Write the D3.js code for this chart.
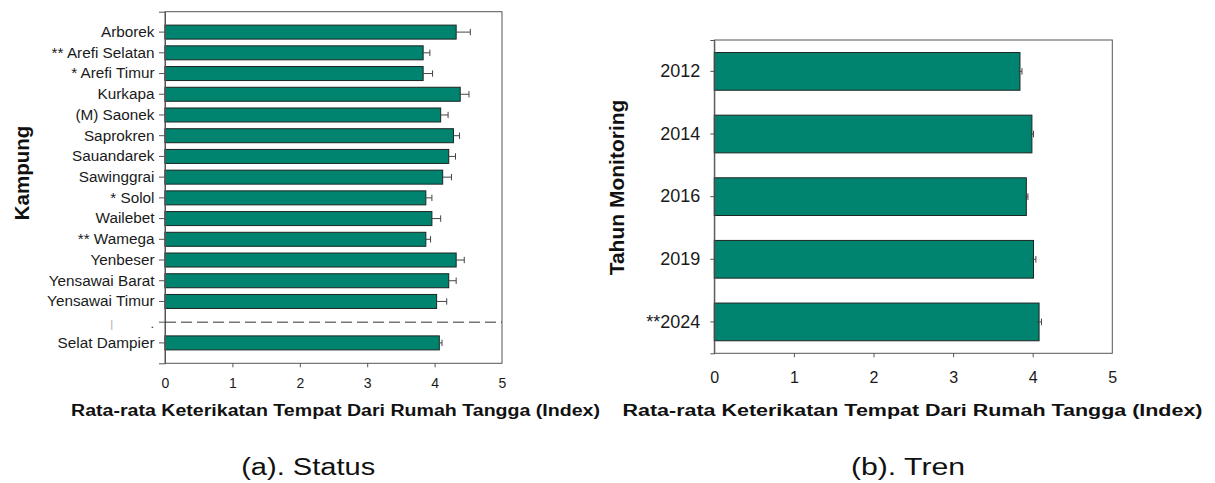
<!DOCTYPE html>
<html>
<head>
<meta charset="utf-8">
<script src="https://cdn.jsdelivr.net/npm/d3@7"></script>
<style>
  html, body { margin: 0; padding: 0; background: #fff; }
  svg { display: block; font-family: "Liberation Sans", Arial, sans-serif; }
</style>
</head>
<body>
<svg id="chart" width="1215" height="483"></svg>
<script>
// ---------- data ----------
const villages = ["Arborek", "** Arefi Selatan", "* Arefi Timur", "Kurkapa", "(M) Saonek", "Saprokren",
  "Sauandarek", "Sawinggrai", "* Solol", "Wailebet", "** Wamega", "Yenbeser", "Yensawai Barat", "Yensawai Timur"];
const villageMeans  = [4.32, 3.83, 3.83, 4.38, 4.09, 4.28, 4.21, 4.12, 3.87, 3.96, 3.87, 4.32, 4.21, 4.03];
const villageErrors = [0.21, 0.10, 0.14, 0.13, 0.11, 0.09, 0.10, 0.13, 0.09, 0.13, 0.07, 0.12, 0.11, 0.15];
const separatorKey = "sep";
const regionLabel = "Selat Dampier";
const regionMean = 4.07;
const regionError = 0.04;

const years = ["2012", "2014", "2016", "2019", "**2024"];
const yearMeans  = [3.84, 3.99, 3.92, 4.01, 4.08];
const yearErrors = [0.025, 0.02, 0.02, 0.03, 0.03];

const xTicks = [0, 1, 2, 3, 4, 5];
const xTitle = "Rata-rata Keterikatan Tempat Dari Rumah Tangga (Index)";
const leftYTitle = "Kampung";
const rightYTitle = "Tahun Monitoring";
const captionA = "(a). Status";
const captionB = "(b). Tren";

// ---------- setup ----------
const svg = d3.select("#chart");
const BAR = "#00846F";
const FONT = "'Liberation Sans', Arial, sans-serif";

svg.append("rect").attr("width", 1215).attr("height", 483).attr("fill", "#fff");

function drawPanel(cfg) {
  const g = svg.append("g");
  const x = d3.scaleLinear().domain([0, 5]).range([cfg.left, cfg.right]);
  const y = d3.scaleBand().domain(cfg.keys).range([cfg.top, cfg.bottom])
    .paddingInner(cfg.padIn).paddingOuter(cfg.padOut);

  // frame
  g.append("rect")
    .attr("x", cfg.left).attr("y", cfg.top)
    .attr("width", cfg.right - cfg.left).attr("height", cfg.bottom - cfg.top)
    .attr("fill", "none").attr("stroke", "#555").attr("stroke-width", 1);

  // bars
  g.selectAll("rect.bar").data(cfg.rows.filter(d => d.value != null)).join("rect")
    .attr("class", "bar")
    .attr("x", x(0))
    .attr("y", d => y(d.key))
    .attr("width", d => x(d.value) - x(0))
    .attr("height", y.bandwidth())
    .attr("fill", BAR)
    .attr("stroke", "#1b2522").attr("stroke-width", 1);

  // error bars
  const eb = g.selectAll("g.err").data(cfg.rows.filter(d => d.value != null)).join("g").attr("class", "err");
  eb.append("line")
    .attr("x1", d => x(d.value - (cfg.sym ? d.err : 0)))
    .attr("x2", d => x(d.value + d.err))
    .attr("y1", d => y(d.key) + y.bandwidth() / 2)
    .attr("y2", d => y(d.key) + y.bandwidth() / 2)
    .attr("stroke", "#444").attr("stroke-width", 1);
  eb.append("line")
    .attr("x1", d => x(d.value + d.err)).attr("x2", d => x(d.value + d.err))
    .attr("y1", d => y(d.key) + y.bandwidth() / 2 - cfg.cap)
    .attr("y2", d => y(d.key) + y.bandwidth() / 2 + cfg.cap)
    .attr("stroke", "#444").attr("stroke-width", 1);

  // y axis
  const ya = g.append("g").attr("transform", `translate(${cfg.left},0)`)
    .call(d3.axisLeft(y).tickSize(cfg.yTick).tickPadding(cfg.yPad)
      .tickFormat(k => cfg.labelOf(k)));
  ya.select(".domain").attr("stroke", "#555");
  ya.selectAll(".tick line").attr("stroke", "#555");
  ya.selectAll(".tick text").attr("font-size", cfg.yFont).attr("fill", "#1a1a1a")
    .attr("font-family", FONT);

  // x axis
  const xa = g.append("g").attr("transform", `translate(0,${cfg.bottom})`)
    .call(d3.axisBottom(x).tickValues(xTicks).tickSize(4).tickPadding(cfg.xPad).tickFormat(d3.format("d")));
  xa.select(".domain").remove();
  xa.selectAll(".tick line").attr("stroke", "#555")
    .attr("opacity", d => (d === 0 || d === 5) ? 0 : 1);
  xa.selectAll(".tick text").attr("font-size", cfg.xFont).attr("fill", "#1a1a1a")
    .attr("font-family", FONT);

  return { x, y, g };
}

// ---------- left panel ----------
const leftKeys = villages.concat([separatorKey, regionLabel]);
const leftRows = villages.map((v, i) => ({ key: v, value: villageMeans[i], err: villageErrors[i] }))
  .concat([{ key: separatorKey, value: null, err: null },
           { key: regionLabel, value: regionMean, err: regionError }]);

const L = drawPanel({
  keys: leftKeys, rows: leftRows,
  left: 165, right: 502, top: 11.7, bottom: 363.3,
  padIn: 0.324, padOut: 0.647, cap: 3.2, sym: false,
  yTick: 6, yPad: 4.5, yFont: 15.3,
  xPad: 10.5, xFont: 14,
  labelOf: k => k === separatorKey ? "" : k
});

// separator dashed line
const sepY = L.y(separatorKey) + L.y.bandwidth() / 2;
L.g.append("line")
  .attr("x1", 165).attr("x2", 502).attr("y1", sepY).attr("y2", sepY)
  .attr("stroke", "#333").attr("stroke-width", 1).attr("stroke-dasharray", "11,5");
L.g.append("text").attr("x", 111.7).attr("y", sepY + 5.5).attr("text-anchor", "middle")
  .attr("font-size", 11).attr("fill", "#aaa").attr("font-family", FONT).text("|");
L.g.append("text").attr("x", 152.3).attr("y", sepY + 5.5).attr("text-anchor", "middle")
  .attr("font-size", 13).attr("fill", "#333").attr("font-family", FONT).text(".");

// ---------- right panel ----------
const rightRows = years.map((yv, i) => ({ key: yv, value: yearMeans[i], err: yearErrors[i] }));
drawPanel({
  keys: years, rows: rightRows,
  left: 714.3, right: 1112.3, top: 40, bottom: 353.3,
  padIn: 0.398, padOut: 0.2, cap: 3.3, sym: true,
  yTick: 4, yPad: 10, yFont: 18,
  xPad: 14.6, xFont: 16,
  labelOf: k => k
});

// ---------- titles ----------
function stretchedText(x, y, str, size, weight, len) {
  svg.append("text").attr("x", x).attr("y", y).attr("text-anchor", "middle")
    .attr("font-size", size).attr("font-weight", weight).attr("fill", "#111")
    .attr("font-family", FONT)
    .attr("textLength", len).attr("lengthAdjust", "spacingAndGlyphs")
    .text(str);
}
stretchedText(335.5, 415.5, xTitle, 15.8, "bold", 529);
stretchedText(912.5, 415.7, xTitle, 17.2, "bold", 580);
stretchedText(308.2, 475, captionA, 23.3, "normal", 134);
stretchedText(908, 475, captionB, 23.3, "normal", 114);

svg.append("text").attr("transform", "translate(29,173) rotate(-90)")
  .attr("text-anchor", "middle").attr("font-size", 20.5).attr("font-weight", "bold")
  .attr("fill", "#111").attr("font-family", FONT).text(leftYTitle);
svg.append("text").attr("transform", "translate(623.5,187.5) rotate(-90)")
  .attr("text-anchor", "middle").attr("font-size", 21).attr("font-weight", "bold")
  .attr("fill", "#111").attr("font-family", FONT).text(rightYTitle);
</script>
</body>
</html>
